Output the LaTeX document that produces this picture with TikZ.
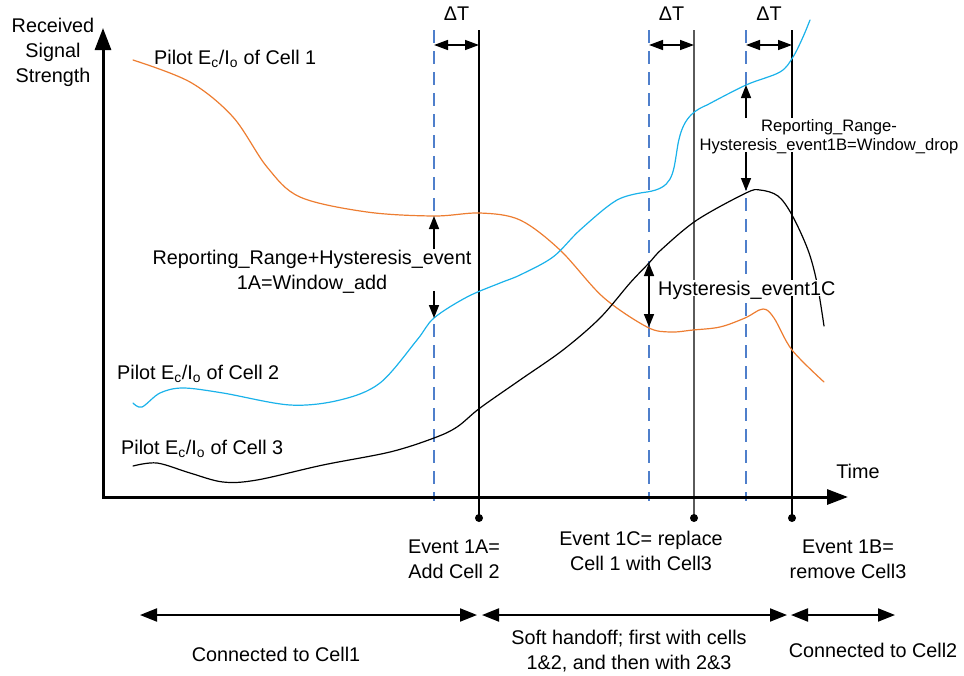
\documentclass[tikz,border=0pt]{standalone}
\usepackage{fontspec}
\setmainfont{Liberation Sans}
\usepackage{tikz}
\usetikzlibrary{arrows.meta}
\definecolor{pilotone}{HTML}{ED7D31}
\definecolor{pilottwo}{HTML}{1AB2EA}
\definecolor{markblue}{HTML}{4F7FCB}
\definecolor{eventgray}{HTML}{5A5A5A}
\newcommand{\bigfs}{\fontsize{19.8}{25}\selectfont}
\newcommand{\smallfs}{\fontsize{16.6}{19.5}\selectfont}
\newcommand{\EcIo}{E\textsubscript{c}/I\textsubscript{o}}
\tikzstyle{axisline}=[line width=3pt, line join=miter,
                      {Triangle[length=22pt,width=16pt]}-{Triangle[length=21pt,width=15pt]}]
\tikzstyle{marker}=[markblue, line width=1.3pt, dash pattern=on 13pt off 8pt]
\tikzstyle{eventline}=[line width=1.1pt]
\tikzstyle{eventgrayline}=[eventgray, line width=2pt]
\tikzstyle{pilot}=[line width=1.2pt, line cap=round]
\tikzstyle{dtarrow}=[line width=1.5pt, {Triangle[length=14pt,width=10pt]}-{Triangle[length=14pt,width=10pt]}]
\tikzstyle{hysarrow}=[line width=1.5pt, -{Triangle[length=13pt,width=10pt]}]
\tikzstyle{hysboth}=[line width=1.5pt, {Triangle[length=13pt,width=10pt]}-{Triangle[length=13pt,width=10pt]}]
\tikzstyle{periodarrow}=[line width=2pt, {Triangle[length=17pt,width=13pt]}-{Triangle[length=17pt,width=13pt]}]
\tikzstyle{lbl}=[inner sep=1pt, font=\bigfs]
\tikzstyle{mask}=[lbl, fill=white]
\tikzstyle{handoffplot}=[x=1pt, y=-1pt,
                         % labels in Arial-like type
                         every node/.style={text depth=0pt}]

\begin{document}
\begin{tikzpicture}[handoffplot]
        \useasboundingbox (0,0) rectangle (964,675);
        % trigger times: dashed = threshold crossed, solid = event after delta T
        \foreach \n/\dx/\sx/\st in {a/434/479/eventline, c/649/694/eventgrayline, b/746/792/eventline} {
            \coordinate (\n-dtop) at (\dx,30);
            \coordinate (\n-dbot) at (\dx,501);
            \coordinate (\n-stop) at (\sx,30);
            \coordinate (\n-sbot) at (\sx,518);
            \coordinate (\n-dleft) at (\dx,45);
            \coordinate (\n-dright) at (\sx,45);
            \draw[marker] (\n-dtop) -- (\n-dbot);
            \draw[\st] (\n-stop) -- (\n-sbot);
            \fill (\n-sbot) circle (4pt);
            \draw[dtarrow] (\n-dleft) -- (\n-dright);
            \node[lbl] (\n-delta) at ({(\dx+\sx)/2},14) {ΔT};
        }
        % pilot curves
        \draw[pilot, pilotone] plot[smooth, tension=0.55] coordinates {(133,60) (190,82) (233,117) (267,167) (300,197) (367,212) (434,216) (480,213) (520,220) (560,250) (603,297) (647,327) (670,332) (693,330) (720,327) (745,318) (763,309) (774,318) (792,350) (824,382)};
        \draw[pilot, pilottwo] plot[smooth, tension=0.55] coordinates {(133,403) (142,407) (160,393) (183,388) (223,393) (290,405) (340,400) (380,383) (417,340) (434,318) (467,297) (500,283) (520,275) (553,257) (580,230) (617,200) (647,192)}
            .. controls (672,188) and (673,176) .. (677,150)
            .. controls (681,122) and (690,112) .. (707,105)
            -- plot[smooth, tension=0.55] coordinates {(707,105) (746,85) (780,72) (793,57) (803,37) (810,20)};
        \draw[pilot] plot[smooth, tension=0.55] coordinates {(133,466) (157,463) (190,473) (223,482) (257,480) (323,465) (390,452) (434,438) (457,427) (480,408) (520,380) (563,350) (600,318) (630,283) (649,263) (662,249) (697,220) (746,193) (760,190) (778,196) (792,215) (808,250) (817,283) (824,326)};
        % axes
        \coordinate (origin) at (103,497);
        \coordinate (ytip) at (103,28);
        \coordinate (xtip) at (848,497);
        \draw[axisline] (ytip) -- (origin) -- (xtip);
        \node[lbl, align=center] (ylabel) at (53,50) {Received\\Signal\\Strength};
        \node[lbl] (xlabel) at (858,471) {Time};
        \node[lbl, anchor=west] (cellonelab) at (153,57) {Pilot \EcIo{} of Cell 1};
        \node[lbl, anchor=west] (celltwolab) at (116,372) {Pilot \EcIo{} of Cell 2};
        \node[lbl, anchor=west] (cellthreelab) at (120,447) {Pilot \EcIo{} of Cell 3};
        % window labels and their arrows
        \node[mask, align=center] (addwin) at (312,270) {Reporting\_Range+Hysteresis\_event\\1A=Window\_add};
        \node[mask, anchor=west] (replwin) at (657,288) {Hysteresis\_event1C};
        \node[mask, font=\smallfs, align=center] (dropwin) at (829,135) {Reporting\_Range-\\Hysteresis\_event1B=Window\_drop};
        \coordinate (a-hi) at (434,216);
        \coordinate (a-lo) at (434,318);
        \coordinate (c-hi) at (649,263);
        \coordinate (c-lo) at (649,327);
        \coordinate (b-hi) at (746,85);
        \coordinate (b-lo) at (746,191);
        \draw[hysarrow] (addwin.north -| a-dtop) -- (a-hi);
        \draw[hysarrow] (addwin.south -| a-dtop) -- (a-lo);
        \draw[hysboth] (c-hi) -- (c-lo);
        \draw[hysarrow] (dropwin.north -| b-dtop) -- (b-hi);
        \draw[hysarrow] (dropwin.south -| b-dtop) -- (b-lo);
        % events
        \node[lbl, align=center] (evonea) at (454,559) {Event 1A=\\Add Cell 2};
        \node[lbl, align=center] (evonec) at (641,551) {Event 1C= replace\\Cell 1 with Cell3};
        \node[lbl, align=center] (evoneb) at (848,559) {Event 1B=\\remove Cell3};
        % connection periods
        \coordinate (pstart) at (140,615);
        \coordinate (pa) at (477,615);
        \coordinate (pb) at (482,615);
        \coordinate (pc) at (787,615);
        \coordinate (pd) at (791,615);
        \coordinate (pend) at (895,615);
        \draw[periodarrow] (pstart) -- (pa);
        \draw[periodarrow] (pb) -- (pc);
        \draw[periodarrow] (pd) -- (pend);
        \node[lbl] (connone) at (276,654) {Connected to Cell1};
        \node[lbl, align=center] (softho) at (629,650) {Soft handoff; first with cells\\1\&2, and then with 2\&3};
        \node[lbl] (conntwo) at (873,650) {Connected to Cell2};
\end{tikzpicture}
\end{document}
